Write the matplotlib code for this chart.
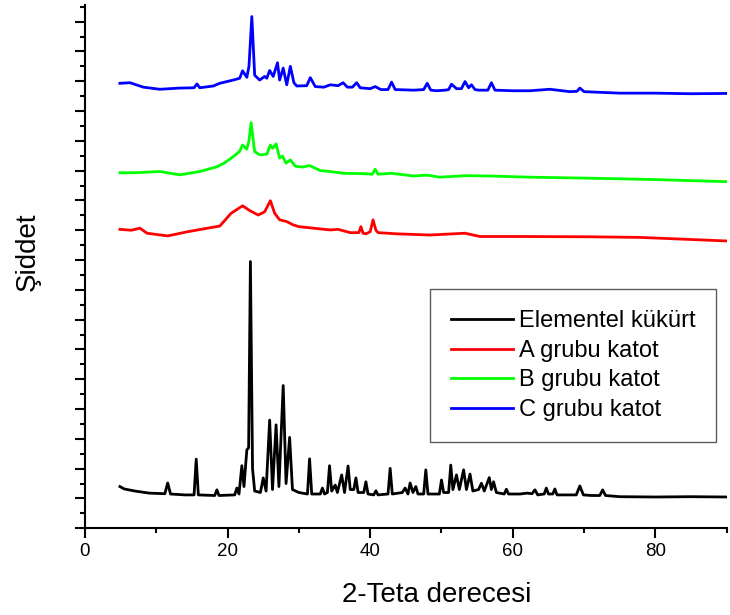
import matplotlib
matplotlib.use("Agg")
import matplotlib.pyplot as plt
from matplotlib.ticker import MultipleLocator

plt.rcParams['font.family'] = ['Liberation Sans', 'DejaVu Sans']

# XRD desenleri: (2θ, şiddet) köşe noktaları, dikey olarak kaydırılmış
kukurt = [
    (4.9, 1.40), (5.5, 1.32), (7.0, 1.25), (9.0, 1.18), (11.2, 1.16), (11.6, 1.52),
    (12.0, 1.15), (14.0, 1.12), (15.3, 1.12), (15.6, 2.32), (15.9, 1.12), (18.2, 1.10),
    (18.5, 1.29), (18.8, 1.10), (21.0, 1.12), (21.3, 1.35), (21.6, 1.15), (22.0, 2.10),
    (22.3, 1.40), (22.7, 2.63), (22.95, 2.70), (23.2, 8.95), (23.5, 2.00), (23.8, 1.25),
    (24.6, 1.20), (25.0, 1.69), (25.4, 1.25), (25.9, 3.63), (26.3, 1.30), (26.8, 3.47),
    (27.2, 1.40), (27.8, 4.79), (28.2, 1.50), (28.7, 3.05), (29.1, 1.30), (30.0, 1.20),
    (31.2, 1.15), (31.5, 2.33), (31.8, 1.15), (33.0, 1.15), (33.3, 1.35), (33.6, 1.15),
    (34.0, 1.20), (34.3, 2.10), (34.6, 1.25), (35.1, 1.45), (35.4, 1.20), (36.0, 1.79),
    (36.4, 1.20), (36.9, 2.09), (37.2, 1.30), (37.7, 1.30), (38.0, 1.69), (38.3, 1.20),
    (39.1, 1.20), (39.4, 1.56), (39.7, 1.15), (40.5, 1.12), (40.8, 1.26), (41.1, 1.12),
    (42.5, 1.15), (42.8, 2.01), (43.1, 1.15), (44.5, 1.20), (44.9, 1.35), (45.3, 1.15),
    (45.6, 1.52), (46.0, 1.20), (46.4, 1.40), (46.7, 1.15), (47.5, 1.15), (47.8, 1.96),
    (48.1, 1.15), (49.7, 1.15), (50.0, 1.62), (50.3, 1.20), (51.0, 1.20), (51.3, 2.12),
    (51.6, 1.30), (52.1, 1.79), (52.5, 1.30), (53.1, 1.96), (53.5, 1.30), (54.0, 1.82),
    (54.4, 1.25), (55.2, 1.30), (55.6, 1.51), (56.0, 1.25), (56.7, 1.70), (57.0, 1.30),
    (57.3, 1.56), (57.7, 1.20), (58.8, 1.15), (59.1, 1.31), (59.4, 1.15), (61.0, 1.15),
    (62.0, 1.18), (62.7, 1.16), (63.1, 1.29), (63.5, 1.12), (64.4, 1.15), (64.7, 1.35),
    (65.0, 1.15), (65.6, 1.15), (65.9, 1.32), (66.2, 1.12), (68.0, 1.12), (68.9, 1.12),
    (69.4, 1.42), (69.9, 1.12), (71.0, 1.10), (72.2, 1.10), (72.6, 1.29), (73.0, 1.10),
    (75.0, 1.06), (80.0, 1.05), (85.0, 1.06), (90.0, 1.05),
]

katot_a = [
    (4.9, 10.03), (6.5, 10.00), (7.7, 10.07), (8.7, 9.90), (11.6, 9.81), (14.4, 9.95),
    (17.2, 10.07), (18.9, 10.14), (19.5, 10.30), (20.5, 10.57), (22.1, 10.82), (23.1, 10.66),
    (24.3, 10.51), (25.2, 10.62), (26.0, 10.99), (26.6, 10.57), (27.3, 10.35), (28.3, 10.29),
    (29.2, 10.18), (30.0, 10.12), (32.0, 10.07), (34.4, 10.01), (35.5, 10.03), (37.2, 9.92),
    (38.4, 9.92), (38.7, 10.12), (39.0, 9.90), (39.4, 9.88), (40.0, 9.95), (40.4, 10.35),
    (40.8, 10.00), (41.1, 9.92), (43.7, 9.88), (48.4, 9.84), (53.3, 9.90), (55.4, 9.79),
    (61.0, 9.79), (70.8, 9.78), (77.8, 9.76), (90.0, 9.64),
]

katot_b = [
    (4.9, 11.93), (7.0, 11.93), (10.5, 11.97), (13.3, 11.86), (16.1, 11.97), (18.5, 12.13),
    (19.5, 12.25), (20.8, 12.47), (21.7, 12.65), (22.1, 12.86), (22.7, 12.72), (23.0, 13.00),
    (23.3, 13.61), (23.8, 12.64), (24.5, 12.53), (25.5, 12.55), (26.0, 12.86), (26.3, 12.75),
    (26.8, 12.90), (27.3, 12.42), (27.7, 12.49), (28.2, 12.25), (28.8, 12.36), (29.5, 12.15),
    (30.5, 12.12), (31.5, 12.17), (33.0, 12.00), (34.4, 11.97), (36.2, 11.91), (38.8, 11.90),
    (40.3, 11.88), (40.7, 12.05), (41.1, 11.88), (43.0, 11.91), (46.1, 11.82), (48.0, 11.85),
    (49.7, 11.78), (53.3, 11.83), (56.8, 11.82), (62.4, 11.78), (70.0, 11.75), (80.0, 11.70),
    (90.0, 11.63),
]

katot_c = [
    (4.9, 14.93), (6.3, 14.95), (8.2, 14.80), (10.5, 14.73), (13.3, 14.77), (15.3, 14.78),
    (15.7, 14.91), (16.1, 14.78), (18.0, 14.84), (18.9, 14.93), (20.8, 15.04), (21.7, 15.10),
    (22.1, 15.35), (22.7, 15.13), (23.0, 15.50), (23.4, 17.17), (23.8, 15.20), (24.5, 15.04),
    (25.2, 15.16), (25.5, 15.10), (25.9, 15.36), (26.4, 15.16), (27.0, 15.62), (27.3, 15.04),
    (27.8, 15.44), (28.3, 14.88), (28.8, 15.50), (29.3, 14.95), (29.7, 14.84), (31.1, 14.85),
    (31.6, 15.12), (32.3, 14.82), (33.5, 14.80), (34.4, 14.88), (35.5, 14.85), (36.2, 14.95),
    (36.8, 14.80), (37.5, 14.80), (38.1, 14.95), (38.6, 14.78), (40.0, 14.75), (40.7, 14.82),
    (41.5, 14.72), (42.5, 14.72), (43.0, 14.97), (43.5, 14.72), (46.1, 14.70), (47.5, 14.72),
    (48.0, 14.93), (48.5, 14.70), (49.3, 14.68), (50.5, 14.70), (51.0, 14.72), (51.4, 14.90),
    (52.1, 14.75), (52.8, 14.75), (53.3, 14.99), (53.8, 14.78), (54.2, 14.88), (54.7, 14.72),
    (55.2, 14.70), (56.5, 14.70), (57.0, 14.95), (57.5, 14.70), (60.0, 14.68), (62.4, 14.68),
    (65.2, 14.73), (68.0, 14.65), (69.0, 14.66), (69.4, 14.77), (70.0, 14.65), (75.0, 14.60),
    (80.0, 14.60), (85.0, 14.58), (90.0, 14.59),
]

seriler = [
    ("Elementel kükürt", kukurt, "black"),
    ("A grubu katot", katot_a, "#ff0000"),
    ("B grubu katot", katot_b, "#00ff00"),
    ("C grubu katot", katot_c, "#0000ff"),
]

fig = plt.figure(figsize=(7.3, 6.15), dpi=100)
ax = fig.add_axes([0.1164, 0.141, 0.8791, 0.851])

for etiket, noktalar, renk in seriler:
    xs = [p[0] for p in noktalar]
    ys = [p[1] for p in noktalar]
    ax.plot(xs, ys, color=renk, lw=2.0, label=etiket)

ax.set_xlim(0, 90)
ax.set_ylim(0, 17.56)

ax.spines['top'].set_visible(False)
ax.spines['right'].set_visible(False)
ax.spines['left'].set_linewidth(1.5)
ax.spines['bottom'].set_linewidth(1.5)

ax.xaxis.set_major_locator(MultipleLocator(20))
ax.xaxis.set_minor_locator(MultipleLocator(10))
ax.yaxis.set_major_locator(MultipleLocator(1))
ax.yaxis.set_minor_locator(MultipleLocator(0.5))
ax.tick_params(which='major', direction='out', length=7, width=1.5, labelsize=13.5)
ax.tick_params(which='minor', direction='out', length=3.6, width=1.5)
ax.tick_params(axis='y', labelleft=False)

ax.set_xlabel('2-Teta derecesi', fontsize=20)
ax.xaxis.set_label_coords(0.548, -0.103)
ax.set_ylabel('Şiddet', fontsize=20)
ax.yaxis.set_label_coords(-0.069, 0.528)

leg = ax.legend(loc='upper left', bbox_to_anchor=(0.589, 0.530),
                bbox_transform=fig.transFigure, fontsize=17, frameon=True,
                fancybox=False, handlelength=2.6, handletextpad=0.25,
                labelspacing=0.32, borderpad=0.9, borderaxespad=0)
leg.get_frame().set_edgecolor('#333333')
leg.get_frame().set_linewidth(1.0)

plt.savefig('out.png', dpi=100)
